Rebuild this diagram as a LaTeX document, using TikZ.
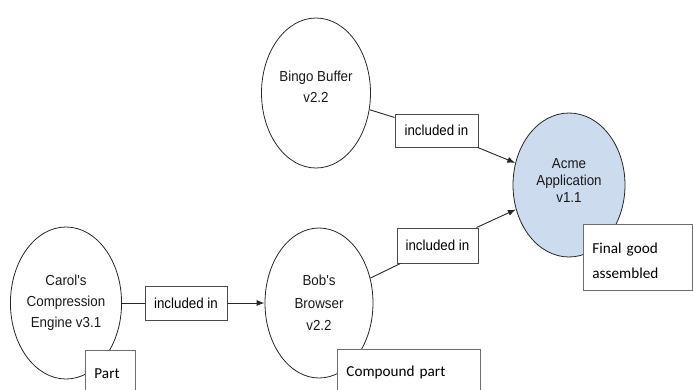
\documentclass[tikz,border=0pt]{standalone}
\usepackage{fontspec}
\usetikzlibrary{shapes.geometric,arrows.meta}
\newfontfamily\labfont[FakeStretch=0.92]{Liberation Sans}
\newfontfamily\notefont{Carlito}
\definecolor{acmeblue}{RGB}{204,219,238}
\definecolor{linegray}{RGB}{40,40,40}
\definecolor{boxgray}{RGB}{75,75,75}
\definecolor{notegray}{RGB}{110,110,110}
\begin{document}
\begin{tikzpicture}[x=1pt,y=-1pt,
  comp/.style={ellipse, draw=black!85, line width=0.8pt, inner sep=0pt, align=center,
               text=black!90, font=\labfont\fontsize{14.5}{21}\selectfont},
  rel/.style={rectangle, draw=boxgray, line width=0.9pt, fill=white, inner sep=0pt,
              font=\labfont\fontsize{14.5}{18}\selectfont},
  note/.style={rectangle, draw=notegray, line width=0.9pt, fill=white, inner xsep=9pt,
               inner ysep=0pt, align=left, anchor=north west,
               font=\notefont\fontsize{15.2}{25}\selectfont},
  link/.style={draw=linegray, line width=0.9pt},
  arr/.style={link, -{Latex[length=8pt,width=6pt]}}]
\useasboundingbox (0,0) rectangle (693,389);
\clip (0,0) rectangle (693,389);

% components
\node[comp, minimum width=109pt, minimum height=150pt, text depth=12pt] (bingo) at (316,93) {Bingo Buffer\\v2.2};
\node[comp, fill=acmeblue, minimum width=112pt, minimum height=144pt, text depth=9pt,
      font=\labfont\fontsize{14.5}{17}\selectfont] (acme) at (569,185) {Acme\\Application\\v1.1};
\node[comp, minimum width=108pt, minimum height=152pt] (carol) at (66,303) {Carol's\\Compression\\Engine v3.1};
\node[comp, minimum width=108pt, minimum height=150pt,
      font=\labfont\fontsize{14.5}{22.5}\selectfont] (bob) at (319,303) {Bob's\\Browser\\v2.2};

% relation boxes
\node[rel, minimum width=83pt, minimum height=33pt] (inc1) at (436.5,130.5) {included in};
\node[rel, minimum width=81pt, minimum height=35pt] (inc2) at (437.5,245.5) {included in};
\node[rel, minimum width=82pt, minimum height=34pt] (inc3) at (186,303) {included in};

% connectors
\draw[link] (bingo) -- (inc1);
\draw[arr] (inc1) -- (acme);
\draw[link] (bob) -- (inc2);
\draw[arr] (inc2) -- (acme);
\draw[link] (carol) -- (inc3);
\draw[arr] (inc3) -- (bob);

% notes
\node[note, text width=32pt, minimum height=46pt] (part) at (85,350) {Part};
\node[note, text width=125pt, minimum height=46pt] (compound) at (337,349) {Compound part};
\node[note, text width=91pt, minimum height=66pt, text height=18pt] (final) at (583,224) {Final good\\assembled};
\end{tikzpicture}
\end{document}
